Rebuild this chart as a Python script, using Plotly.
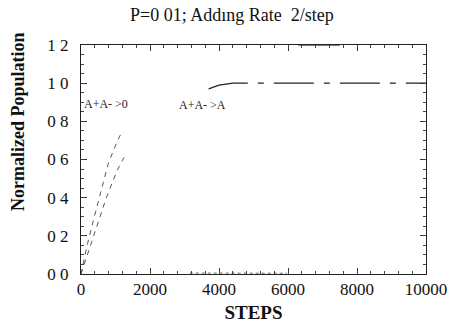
import plotly.graph_objects as go

# Series
ann0_x = [0, 164, 357, 600, 792, 1060, 1190]
ann0_y = [0.0, 0.14, 0.28, 0.44, 0.58, 0.70, 0.745]

ann0b_x = [0, 261, 502, 744, 1053, 1246]
ann0b_y = [0.0, 0.143, 0.283, 0.405, 0.545, 0.611]

annA_x = [3700, 3780, 4000, 4400, 5000, 6000, 7000, 8000, 9000, 10000]
annA_y = [0.97, 0.975, 0.99, 1.0, 1.0, 1.0, 1.0, 1.0, 1.0, 1.0]

low_x = [3150, 4000, 5000, 5970]
low_y = [0.005, 0.004, 0.004, 0.004]

top_x = [6300, 7000, 7500]
top_y = [1.197, 1.198, 1.197]

ytick_alias = {"0.0": "0 0", "0.2": "0 2", "0.4": "0 4", "0.6": "0 6",
               "0.8": "0 8", "1.0": "1 0", "1.2": "1 2"}

FONT = "Liberation Serif"
fig = go.Figure()
fig.add_trace(go.Scatter(x=ann0_x, y=ann0_y, mode="lines",
                         line=dict(color="#444", width=0.9, dash="5px,5px")))
fig.add_trace(go.Scatter(x=ann0b_x, y=ann0b_y, mode="lines",
                         line=dict(color="#444", width=0.9, dash="5px,5px")))
fig.add_trace(go.Scatter(x=annA_x, y=annA_y, mode="lines",
                         line=dict(color="#222", width=1.2, dash="40px,10px,6px,10px")))
fig.add_trace(go.Scatter(x=low_x, y=low_y, mode="lines",
                         line=dict(color="#666", width=1, dash="dot")))
fig.add_trace(go.Scatter(x=top_x, y=top_y, mode="lines",
                         line=dict(color="#777", width=1)))
# invisible trace to anchor minor-tick overlay axes
fig.add_trace(go.Scatter(x=[0, 10000], y=[0, 1.2], mode="markers",
                         marker=dict(opacity=0), xaxis="x2", yaxis="y2",
                         hoverinfo="skip"))

fig.add_annotation(x=30, y=0.89, text="A+A- >0", showarrow=False,
                   xanchor="left", font=dict(family=FONT, size=12, color="#222"))
fig.add_annotation(x=2790, y=0.886, text="A+A- >A", showarrow=False,
                   xanchor="left", font=dict(family=FONT, size=12, color="#222"))
fig.add_annotation(xref="paper", yref="paper", x=-0.183, y=0.668,
                   text="<b>Normalized Population</b>", textangle=-90,
                   showarrow=False, xanchor="center", yanchor="middle",
                   font=dict(family=FONT, size=18, color="#111"))

fig.update_layout(
    width=453, height=323,
    margin=dict(l=81, r=27, t=45, b=49, autoexpand=False),
    paper_bgcolor="white", plot_bgcolor="white",
    showlegend=False,
    font=dict(family=FONT, color="#111"),
    title=dict(text="P=0 01; Addıng Rate  2/step", x=0.512, xref="container",
               xanchor="center", y=0.955, yanchor="middle",
               font=dict(family=FONT, size=18, color="#111")),
    xaxis=dict(range=[0, 10000], tickmode="linear", tick0=0, dtick=2000,
               tickformat="d", ticks="inside", automargin=False,
               ticklen=6, tickwidth=1, tickcolor="#333", showgrid=False, zeroline=False,
               showline=True, linecolor="#222", linewidth=1, mirror="ticks",
               tickfont=dict(family=FONT, size=17, color="#111"),
               title=dict(text="<b>STEPS</b>", standoff=10,
                          font=dict(family=FONT, size=19, color="#111"))),
    yaxis=dict(range=[0, 1.2], tickmode="linear", tick0=0, dtick=0.2,
               tickformat=".1f", labelalias=ytick_alias, automargin=False,
               ticks="inside", ticklen=6, tickwidth=1, tickcolor="#333", showgrid=False,
               zeroline=False, showline=True, linecolor="#222", linewidth=1,
               mirror="ticks", ticklabelstandoff=8,
               tickfont=dict(family=FONT, size=17, color="#111")),
    xaxis2=dict(range=[0, 10000], overlaying="x", anchor="y2", side="bottom",
                tickmode="linear", tick0=0, dtick=400, ticks="inside",
                ticklen=3, tickwidth=1, tickcolor="#444", showticklabels=False,
                showgrid=False, zeroline=False, showline=False,
                mirror="ticks", automargin=False),
    yaxis2=dict(range=[0, 1.2], overlaying="y", anchor="x2", side="left",
                tickmode="linear", tick0=0, dtick=0.05, ticks="inside",
                ticklen=3, tickwidth=1, tickcolor="#444", showticklabels=False,
                showgrid=False, zeroline=False, showline=False,
                mirror="ticks", automargin=False),
)
fig.write_html("out.html")
